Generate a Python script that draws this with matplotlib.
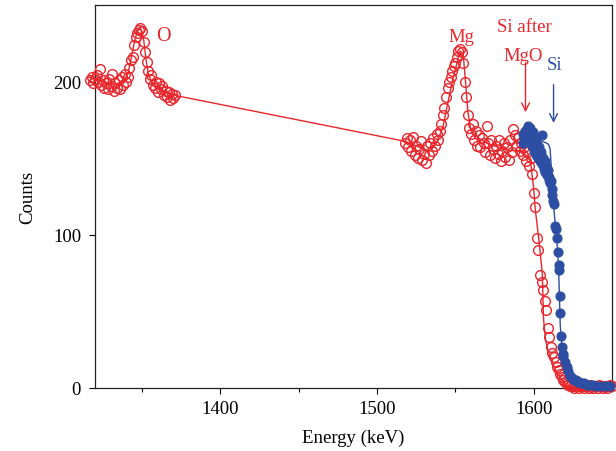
import numpy as np
import matplotlib
matplotlib.use("Agg")
import matplotlib.pyplot as plt
from matplotlib.ticker import MultipleLocator

# ---------------- data ----------------
# Red spectrum ("Si after MgO"), open circles, channel step 1 keV
red_o_start = 1317
red_o_counts = [201, 203, 199, 202, 204, 200, 208, 198, 201, 196,
                199, 195, 202, 197, 205, 194, 199, 196, 201, 195,
                203, 198, 205, 200, 203, 209, 214, 216, 224, 229,
                232, 234, 235, 233, 226, 219, 213, 207, 202, 204,
                198, 196, 200, 193, 199, 195, 197, 191, 194, 190,
                193, 188, 192, 189, 191]

red_si_start = 1518
red_si_counts = [160, 163, 157, 162, 155, 164, 152, 158, 150, 156,
                 161, 149, 153, 147, 158, 152, 160, 155, 163, 158,
                 166, 162, 168, 172, 178, 183, 190, 196, 200, 203,
                 207, 210, 212, 216, 220, 221, 219, 212, 200, 190,
                 178, 170, 166, 172, 162, 168, 158, 165, 157, 163,
                 160, 154, 171, 160, 152, 162, 156, 150, 158, 153,
                 162, 148, 155, 160, 151, 157, 149, 162, 154, 169,
                 165, 158, 163, 155, 160, 152, 157, 148, 154, 145,
                 150, 140, 127, 118, 98, 90, 74, 69, 64, 57,
                 51, 39, 33, 27, 23, 20, 17, 14, 12, 9,
                 7, 5, 4, 3, 2, 1, 2, 1, 0, 2,
                 1, 0, 1, 2, 0, 1, 1, 0, 2, 1,
                 0, 1, 1, 0, 2, 1, 0, 1, 1, 0,
                 1, 2, 1]

# Red simulation line
red_fit_e = [1316, 1325, 1332, 1338, 1341, 1343, 1345, 1347, 1349, 1351,
             1352.5, 1354, 1356, 1360, 1365, 1371, 1518, 1525, 1532, 1538,
             1542, 1545, 1548, 1551, 1553, 1555, 1556.5, 1558, 1560, 1565,
             1570, 1575, 1580, 1585, 1590, 1595, 1598, 1600, 1601, 1603.5,
             1605.5, 1606.3, 1607.5, 1609, 1612, 1615, 1618, 1621, 1625, 1650]
red_fit_c = [203, 200, 198, 200, 205, 215, 225, 233, 235, 228,
             215, 205, 200, 196, 193, 191, 161, 158, 155, 160,
             170, 185, 200, 212, 220, 218, 200, 180, 168, 163,
             160, 158, 156, 155, 155, 152, 148, 130, 117, 95,
             75, 45, 32, 25, 16, 10, 5, 1.5, 0.5, 0.3]

# Blue spectrum ("Si"), filled circles
blue_e = [1593.0, 1593.5, 1594.0, 1594.5, 1595.0, 1595.5, 1596.0, 1596.5, 1597.0, 1597.5,
          1598.0, 1598.5, 1599.0, 1599.5, 1600.0, 1600.5, 1601.0, 1601.5, 1602.0, 1603.0,
          1603.5, 1604.0, 1604.5, 1605.0, 1605.6, 1606.0, 1606.5, 1607.0, 1607.5, 1608.0,
          1608.5, 1609.0, 1609.5, 1610.0, 1610.5, 1611.0, 1611.5, 1612.0, 1612.5, 1613.0,
          1613.9, 1614.2, 1614.8, 1615.6, 1616.0, 1616.3, 1616.6, 1617.0, 1617.6, 1618.2,
          1618.5, 1619.0, 1620.0, 1621.2, 1622.0, 1623.0, 1624.0, 1625.0, 1626.0, 1627.0,
          1628.0, 1629.0, 1630.0, 1632.0, 1634.0, 1636.0, 1638.0, 1640.0, 1643.0, 1646.0,
          1649.0]
blue_c = [160, 166, 163, 168, 162, 169, 165, 171, 164, 170,
          160, 166, 158, 167, 161, 155, 163, 152, 159, 150,
          157, 148, 154, 146, 165, 150, 143, 148, 141, 145,
          139, 142, 136, 138, 134, 135, 130, 126, 122, 120,
          106, 104, 98, 89, 80, 77, 60, 49, 34, 27,
          22, 21, 17, 14, 11, 8, 7, 6, 5, 5,
          4, 4, 3, 3, 2, 2, 2, 1, 1, 1,
          1]

# Blue simulation line
blue_fit_e = [1594, 1598, 1603, 1608, 1609.5, 1610.5, 1611.5, 1612.5, 1614, 1615.3,
              1616, 1617, 1618, 1619, 1620.5, 1622, 1624, 1627, 1630, 1635,
              1640, 1645, 1650]
blue_fit_c = [168, 165, 162, 160, 159, 156, 140, 122, 104, 90,
              75, 40, 28, 20, 15, 11, 8, 6, 5, 4,
              3, 2, 1]

x_ticks = [1400, 1500, 1600]
y_ticks = [0, 100, 200]

# ---------------- style ----------------
RED = "#e8262c"
BLUE = "#2c4ea3"
plt.rcParams["font.family"] = ["Liberation Serif", "DejaVu Serif"]
FS = 13.5

fig = plt.figure(figsize=(6.16, 4.52), dpi=100)
ax = fig.add_axes([95 / 616, 63 / 452, 517 / 616, 383 / 452])

red_o_e = np.arange(red_o_start, red_o_start + len(red_o_counts))
red_si_e = np.arange(red_si_start, red_si_start + len(red_si_counts))

ax.plot(red_fit_e, red_fit_c, color=RED, lw=1.0, clip_on=False, zorder=2)
for e, c in ((red_o_e, red_o_counts), (red_si_e, red_si_counts)):
    ax.plot(e, c, linestyle="none", marker="o", ms=7, mfc="none",
            mec=RED, mew=1.0, clip_on=False, zorder=3)

ax.plot(blue_e, blue_c, linestyle="none", marker="o", ms=6.5, mfc=BLUE,
        mec=BLUE, mew=0.8, clip_on=False, zorder=4)
ax.plot(blue_fit_e, blue_fit_c, color=BLUE, lw=1.0, clip_on=False, zorder=5)

ax.set_xlim(1320, 1650)
ax.set_ylim(0, 250)
ax.set_xticks(x_ticks)
ax.set_yticks(y_ticks)
ax.xaxis.set_minor_locator(MultipleLocator(50))
ax.tick_params(axis="both", which="major", direction="out", length=4,
               width=0.8, labelsize=FS)
ax.tick_params(axis="x", which="major", pad=5)
ax.tick_params(axis="y", which="major", pad=6)
ax.tick_params(axis="x", which="minor", direction="out", length=3, width=0.8)
for s in ax.spines.values():
    s.set_linewidth(0.9)
    s.set_color("#222222")

ax.set_xlabel("Energy (keV)", fontsize=FS, labelpad=8)
ax.set_ylabel("Counts", fontsize=FS, labelpad=12)

ax.text(1363.5, 230, "O", color=RED, fontsize=FS + 1, ha="center", va="center")
ax.text(1553.9, 229.5, "Mg", color=RED, fontsize=FS, ha="center", va="center")
ax.text(1594.1, 236, "Si after", color=RED, fontsize=FS, ha="center", va="center")
ax.text(1593.5, 217, "MgO", color=RED, fontsize=FS, ha="center", va="center")
ax.text(1613.3, 211, "Si", color=BLUE, fontsize=FS, ha="center", va="center")

ax.annotate("", xy=(1594.8, 180), xytext=(1594.8, 212.5),
            arrowprops=dict(arrowstyle="->", color=RED, lw=1.0,
                            shrinkA=0, shrinkB=0, mutation_scale=14))
ax.annotate("", xy=(1612.7, 173), xytext=(1612.7, 198),
            arrowprops=dict(arrowstyle="->", color=BLUE, lw=1.0,
                            shrinkA=0, shrinkB=0, mutation_scale=14))

fig.savefig("out.png", dpi=100)
